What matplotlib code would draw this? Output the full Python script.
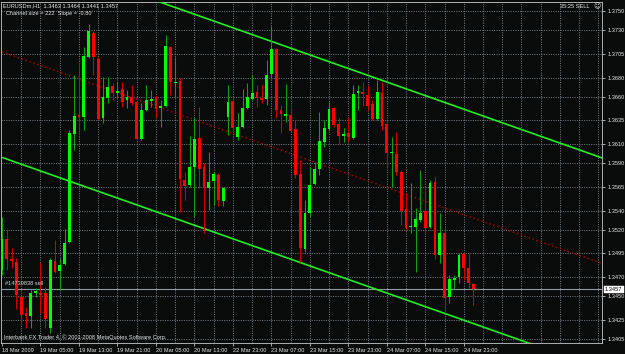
import matplotlib
matplotlib.use("Agg")
import matplotlib.pyplot as plt
import matplotlib.transforms as mtransforms

# ---------------- data (EURUSDm, H1) ----------------
opens = [
    1.3478, 1.3510, 1.3489, 1.3486, 1.3449, 1.3432, 1.3429, 1.3453, 1.3453, 1.3453,
    1.3416, 1.3487, 1.3476, 1.3484, 1.3507, 1.3621, 1.3641, 1.3638, 1.3702, 1.3727,
    1.3700, 1.3637, 1.3658, 1.3671, 1.3664, 1.3668, 1.3656, 1.3660, 1.3654, 1.3615,
    1.3646, 1.3655, 1.3660, 1.3648, 1.3650, 1.3712, 1.3674, 1.3676, 1.3572, 1.3567,
    1.3586, 1.3616, 1.3586, 1.3564, 1.3571, 1.3577, 1.3550, 1.3638, 1.3655, 1.3617,
    1.3628, 1.3648, 1.3657, 1.3665, 1.3658, 1.3657, 1.3684, 1.3710, 1.3646, 1.3640,
    1.3641, 1.3626, 1.3579, 1.3500, 1.3538, 1.3568, 1.3584, 1.3612, 1.3626, 1.3648,
    1.3631, 1.3618, 1.3622, 1.3616, 1.3664, 1.3665, 1.3662, 1.3652, 1.3636, 1.3664,
    1.3631, 1.3601, 1.3600, 1.3581, 1.3542, 1.3523, 1.3523, 1.3530, 1.3540, 1.3523,
    1.3570, 1.3493, 1.3516, 1.3449, 1.3467, 1.3470, 1.3494, 1.3480, 1.3463,
]
highs = [
    1.3533, 1.3521, 1.3501, 1.3490, 1.3451, 1.3439, 1.3456, 1.3459, 1.3486, 1.3460,
    1.3490, 1.3509, 1.3490, 1.3521, 1.3625, 1.3683, 1.3696, 1.3712, 1.3736, 1.3729,
    1.3702, 1.3681, 1.3681, 1.3674, 1.3675, 1.3675, 1.3667, 1.3672, 1.3656, 1.3653,
    1.3672, 1.3667, 1.3662, 1.3656, 1.3725, 1.3713, 1.3702, 1.3680, 1.3581, 1.3618,
    1.3638, 1.3649, 1.3590, 1.3602, 1.3581, 1.3580, 1.3565, 1.3672, 1.3656, 1.3643,
    1.3668, 1.3674, 1.3683, 1.3672, 1.3673, 1.3698, 1.3734, 1.3711, 1.3651, 1.3673,
    1.3649, 1.3635, 1.3593, 1.3551, 1.3586, 1.3591, 1.3644, 1.3635, 1.3654, 1.3649,
    1.3637, 1.3627, 1.3638, 1.3672, 1.3672, 1.3675, 1.3672, 1.3656, 1.3677, 1.3675,
    1.3635, 1.3617, 1.3623, 1.3583, 1.3559, 1.3569, 1.3543, 1.3583, 1.3562, 1.3572,
    1.3576, 1.3538, 1.3520, 1.3472, 1.3472, 1.3495, 1.3495, 1.3495, 1.3464,
]
lows = [
    1.3472, 1.3478, 1.3480, 1.3436, 1.3422, 1.3416, 1.3416, 1.3449, 1.3432, 1.3416,
    1.3411, 1.3474, 1.3456, 1.3483, 1.3506, 1.3604, 1.3620, 1.3625, 1.3701, 1.3683,
    1.3635, 1.3632, 1.3653, 1.3656, 1.3658, 1.3649, 1.3648, 1.3651, 1.3614, 1.3614,
    1.3645, 1.3649, 1.3638, 1.3628, 1.3649, 1.3662, 1.3660, 1.3539, 1.3551, 1.3565,
    1.3533, 1.3564, 1.3516, 1.3541, 1.3546, 1.3545, 1.3545, 1.3620, 1.3625, 1.3614,
    1.3627, 1.3647, 1.3656, 1.3649, 1.3653, 1.3651, 1.3680, 1.3637, 1.3622, 1.3633,
    1.3623, 1.3574, 1.3486, 1.3496, 1.3533, 1.3567, 1.3577, 1.3607, 1.3625, 1.3628,
    1.3610, 1.3612, 1.3612, 1.3615, 1.3646, 1.3650, 1.3646, 1.3635, 1.3635, 1.3625,
    1.3586, 1.3565, 1.3577, 1.3525, 1.3520, 1.3516, 1.3475, 1.3528, 1.3516, 1.3522,
    1.3489, 1.3485, 1.3432, 1.3443, 1.3457, 1.3464, 1.3467, 1.3459, 1.3441,
]
closes = [
    1.3510, 1.3489, 1.3487, 1.3451, 1.3430, 1.3429, 1.3453, 1.3455, 1.3451, 1.3426,
    1.3488, 1.3475, 1.3483, 1.3506, 1.3622, 1.3640, 1.3638, 1.3703, 1.3729, 1.3702,
    1.3636, 1.3660, 1.3670, 1.3664, 1.3666, 1.3654, 1.3660, 1.3653, 1.3615, 1.3646,
    1.3656, 1.3657, 1.3647, 1.3650, 1.3713, 1.3675, 1.3675, 1.3573, 1.3566, 1.3586,
    1.3615, 1.3584, 1.3564, 1.3570, 1.3579, 1.3551, 1.3564, 1.3654, 1.3627, 1.3628,
    1.3648, 1.3660, 1.3664, 1.3658, 1.3656, 1.3683, 1.3710, 1.3646, 1.3642, 1.3642,
    1.3624, 1.3577, 1.3501, 1.3538, 1.3567, 1.3584, 1.3613, 1.3627, 1.3647, 1.3630,
    1.3618, 1.3621, 1.3617, 1.3663, 1.3666, 1.3663, 1.3650, 1.3636, 1.3665, 1.3629,
    1.3601, 1.3602, 1.3581, 1.3540, 1.3522, 1.3524, 1.3531, 1.3538, 1.3522, 1.3569,
    1.3493, 1.3516, 1.3448, 1.3468, 1.3469, 1.3493, 1.3480, 1.3464, 1.3457,
]

price_ticks = [1.3750, 1.3730, 1.3705, 1.3680, 1.3660, 1.3635, 1.3610, 1.3590,
               1.3565, 1.3540, 1.3520, 1.3495, 1.3470, 1.3450, 1.3425, 1.3405]
time_labels = ["18 Mar 2009", "19 Mar 05:00", "19 Mar 13:00", "19 Mar 21:00",
               "20 Mar 05:00", "20 Mar 13:00", "22 Mar 23:00", "23 Mar 07:00",
               "23 Mar 15:00", "23 Mar 23:00", "24 Mar 07:00", "24 Mar 15:00",
               "24 Mar 23:00"]
label_step = 8          # bars between time labels
grid_step = 4           # bars between vertical grid lines

# regression channel (middle line end points, bar index / price)
channel_bars = [0, 125]
channel_mid = [1.3707, 1.3484]
channel_size_pips = 222

bid = 1.3457
header = "EURUSDm,H1  1.3463 1.3464 1.3441 1.3457"
channel_text = "Channel size = 222  Slope = -0.80"
order_text = "#14739838 sell"
copyright_text = "Interbank FX Trader 4, \u00a9 2001-2008 MetaQuotes Software Corp."

# ---------------- styling ----------------
W, H = 625, 354
BG = "#0a0c0c"
FG = "#e6e6e6"
GRID = "#7f8c98"
BULL = "#00ff00"
BULL_WICK = "#10a010"
BEAR = "#ff0000"
BEAR_WICK = "#d00000"
CHAN = "#22ee22"
MID = "#b80000"
FONT = ["Liberation Sans", "DejaVu Sans"]
FS = 4.1

plt.rcParams["font.family"] = FONT

fig = plt.figure(figsize=(W / 100, H / 100), dpi=100, facecolor=BG)
ax = fig.add_axes([1 / W, 1 - 343 / H, 601 / W, (343 - 1.7) / H])
ax.set_facecolor(BG)

n = len(opens)
ax.set_xlim(-0.21, 124.74)
ax.set_ylim(1.34007, 1.37598)

# grid
for p in price_ticks:
    ax.axhline(p, color=GRID, lw=0.55, ls=(0, (1.5, 1.6)), zorder=1)
for b in range(grid_step, 125, grid_step):
    ax.axvline(b, color=GRID, lw=0.55, ls=(0, (1.5, 1.6)), zorder=1)

# channel
half = channel_size_pips * 0.0001 / 2
up = [m + half for m in channel_mid]
lo = [m - half for m in channel_mid]
ax.plot(channel_bars, up, color=CHAN, lw=1.2, zorder=4, solid_capstyle="butt")
ax.plot(channel_bars, lo, color=CHAN, lw=1.2, zorder=4, solid_capstyle="butt")
ax.plot(channel_bars, channel_mid, color=MID, lw=1.0, ls=(0, (1, 2.0)), zorder=2)

# bid line
ax.axhline(bid, color="#8d9ba6", lw=0.8, zorder=3)

# candles
body_w = 0.58
min_h = 0.00009
for i in range(n):
    o, h, l, c = opens[i], highs[i], lows[i], closes[i]
    bull = c >= o
    wc = BULL_WICK if bull else BEAR_WICK
    bc = BULL if bull else BEAR
    ax.vlines(i, l, h, color=wc, lw=0.75, zorder=5)
    bottom = min(o, c)
    height = max(abs(c - o), min_h)
    ax.bar(i, height, bottom=bottom, width=body_w, color=bc, edgecolor="none",
           linewidth=0, zorder=6)

# axes / ticks
for s in ax.spines.values():
    s.set_color("#c8c8c8")
    s.set_linewidth(0.6)
ax.yaxis.tick_right()
ax.set_yticks(price_ticks)
ax.set_yticklabels([f"{p:.4f}" for p in price_ticks])
ax.tick_params(axis="y", direction="out", length=2.5, width=0.5, colors=FG,
               labelsize=FS, pad=1.6)
xt = list(range(0, label_step * len(time_labels), label_step))
ax.set_xticks(xt)
ax.set_xticklabels(time_labels, ha="left")
ax.tick_params(axis="x", direction="out", length=2.5, width=0.5, colors=FG,
               labelsize=FS, pad=1.0)

# current price box on price scale
trans = mtransforms.blended_transform_factory(ax.transAxes, ax.transData)
ax.annotate(f"{bid:.4f}", xy=(1.0, bid), xycoords=trans, xytext=(2.2, 0),
            textcoords="offset points", ha="left", va="center", fontsize=FS,
            color="black", annotation_clip=False,
            bbox=dict(boxstyle="square,pad=0.25", fc="white", ec="white", lw=0.3),
            zorder=10)

# order label
ax.annotate(order_text, xy=(0, bid), xycoords=("axes fraction", "data"),
            xytext=(3, 4.6), textcoords="offset points", ha="left", va="center",
            fontsize=FS, color="#cfd6dc", zorder=9)

# texts
def px(x, y):
    return x / W, 1 - y / H

fig.text(*px(3, 5.8), header, fontsize=FS, color=FG, ha="left", va="center")
fig.text(*px(6, 13.8), channel_text, fontsize=FS, color=FG, ha="left", va="center")
fig.text(*px(4, 337.5), copyright_text, fontsize=FS, color=FG, ha="left", va="center")
fig.text(*px(590, 6), "35:25 SELL", fontsize=FS, color=FG, ha="right", va="center")
fig.text(*px(597, 6), "\u263a", fontsize=5, color=FG, ha="center", va="center",
         family=["DejaVu Sans"])

fig.savefig("out.png", dpi=100, facecolor=BG)
